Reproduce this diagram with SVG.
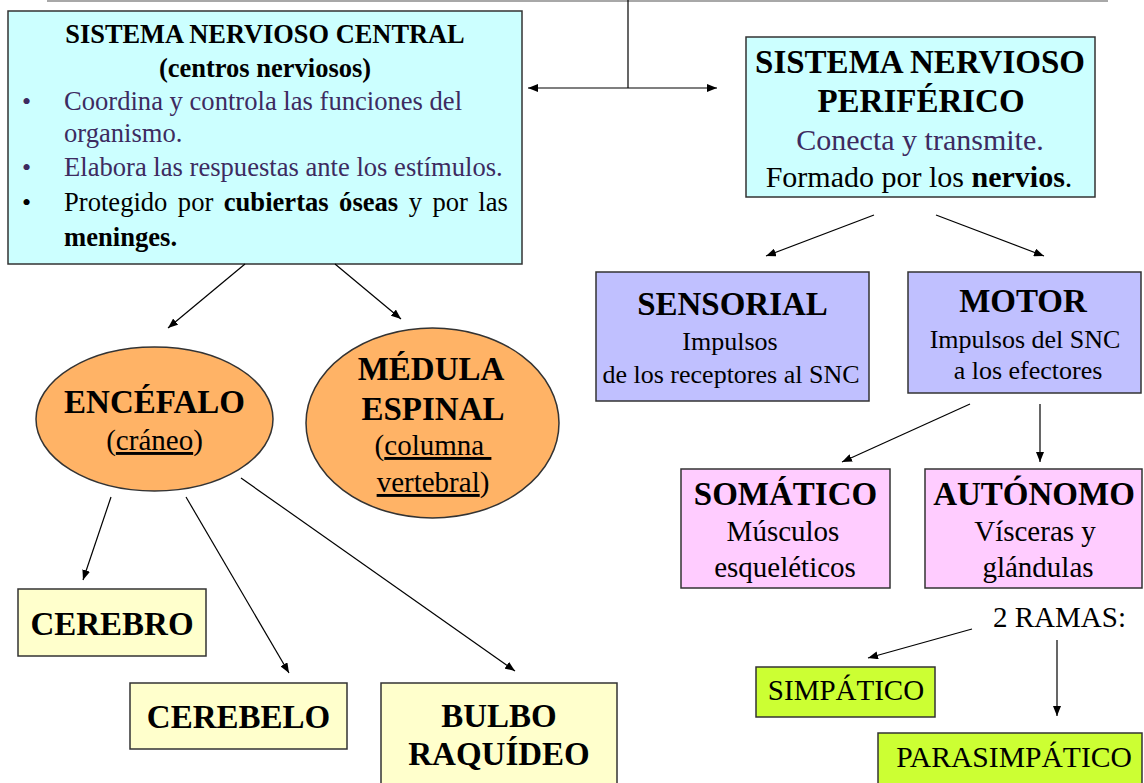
<svg xmlns="http://www.w3.org/2000/svg" width="1144" height="783" viewBox="0 0 1144 783">
<defs>
<marker id="ah" viewBox="0 0 10 8" refX="10" refY="4" markerWidth="10" markerHeight="8" orient="auto-start-reverse" markerUnits="userSpaceOnUse">
<path d="M0,0 L10,4 L0,8 z" fill="#000"/>
</marker>
<style>
text{font-family:"Liberation Serif","Times New Roman",serif;fill:#000}
.c{text-anchor:middle}
.b{font-weight:bold}
.p{fill:#3d2b5f}
.box{stroke:#333;stroke-width:1.5}
.cyan{fill:#ccffff}
.blue{fill:#c0c0ff}
.pink{fill:#ffccff}
.orange{fill:#ffb366}
.yellow{fill:#ffffcc}
.lime{fill:#ccff33}
.conn line,.conn path{stroke:#000;stroke-width:1.2;fill:none}
.arr{marker-end:url(#ah)}
.u{text-decoration:underline}
</style>
</defs>
<rect width="1144" height="783" fill="#fff"/>
<line x1="47" y1="1" x2="1108" y2="1" stroke="#a8a8a8" stroke-width="2"/>

<g id="snc">
<rect class="box cyan" x="8" y="11" width="514" height="253"/>
<text class="c b" x="265" y="43" font-size="26.4">SISTEMA NERVIOSO CENTRAL</text>
<text class="c b" x="265" y="77" font-size="26.5">(centros nerviosos)</text>
<text class="p" x="22" y="110" font-size="26">•</text>
<text class="p" x="64" y="110" font-size="26.6">Coordina y controla las funciones del</text>
<text class="p" x="64" y="142" font-size="26.6">organismo.</text>
<text class="p" x="22" y="176" font-size="26">•</text>
<text class="p" x="64" y="176" font-size="26.6">Elabora las respuestas ante los estímulos.</text>
<text x="22" y="211" font-size="26">•</text>
<text x="64" y="211" font-size="26.6" word-spacing="3.8">Protegido por <tspan class="b">cubiertas óseas</tspan> y por las</text>
<text class="b" x="64" y="246" font-size="26.6">meninges.</text>
</g>

<g id="snp">
<rect class="box cyan" x="746" y="37" width="349" height="160"/>
<text class="c b" x="920" y="73" font-size="33">SISTEMA NERVIOSO</text>
<text class="c b" x="921" y="112" font-size="33">PERIFÉRICO</text>
<text class="c p" x="920" y="150" font-size="30">Conecta y transmite.</text>
<text class="c" x="919" y="187" font-size="30">Formado por los <tspan class="b">nervios</tspan>.</text>
</g>

<g id="sensorial">
<rect class="box blue" x="596" y="272" width="273" height="129"/>
<text class="c b" x="732.5" y="315" font-size="33">SENSORIAL</text>
<text class="c" x="730" y="350" font-size="26">Impulsos</text>
<text class="c" x="731" y="383" font-size="26">de los receptores al SNC</text>
</g>

<g id="motor">
<rect class="box blue" x="908" y="272" width="233" height="121"/>
<text class="c b" x="1023" y="312" font-size="33">MOTOR</text>
<text class="c" x="1025" y="348" font-size="26">Impulsos del SNC</text>
<text class="c" x="1028" y="379" font-size="26">a los efectores</text>
</g>

<g id="somatico">
<rect class="box pink" x="681" y="469" width="209" height="119"/>
<text class="c b" x="785.5" y="505" font-size="33">SOMÁTICO</text>
<text class="c" x="783" y="541" font-size="29">Músculos</text>
<text class="c" x="785" y="577" font-size="29">esqueléticos</text>
</g>

<g id="autonomo">
<rect class="box pink" x="925" y="469" width="217" height="119"/>
<text class="c b" x="1034" y="505" font-size="33">AUTÓNOMO</text>
<text class="c" x="1035" y="541" font-size="29">Vísceras y</text>
<text class="c" x="1038" y="577" font-size="29">glándulas</text>
</g>

<g id="encefalo">
<ellipse class="box orange" cx="154.5" cy="419" rx="118.5" ry="72"/>
<text class="c b" x="154.5" y="413" font-size="33">ENCÉFALO</text>
<text class="c" x="154.5" y="450" font-size="29">(<tspan class="u">cráneo</tspan>)</text>
</g>

<g id="medula">
<ellipse class="box orange" cx="432.5" cy="423" rx="126.5" ry="95"/>
<text class="c b" x="431" y="380" font-size="33">MÉDULA</text>
<text class="c b" x="433" y="420" font-size="33">ESPINAL</text>
<text class="c" x="433" y="455" font-size="29">(<tspan class="u">columna&#160;</tspan></text>
<text class="c" x="433" y="492" font-size="29"><tspan class="u">vertebral</tspan>)</text>
</g>

<g id="cerebro">
<rect class="box yellow" x="18" y="589" width="188" height="67"/>
<text class="c b" x="112" y="635" font-size="33">CEREBRO</text>
</g>

<g id="cerebelo">
<rect class="box yellow" x="130" y="683" width="217" height="66"/>
<text class="c b" x="238.5" y="728" font-size="33">CEREBELO</text>
</g>

<g id="bulbo">
<rect class="box yellow" x="381" y="683" width="236" height="110"/>
<text class="c b" x="499" y="727" font-size="33">BULBO</text>
<text class="c b" x="499" y="765" font-size="33">RAQUÍDEO</text>
</g>

<g id="ramas">
<text x="993" y="627" font-size="29">2 RAMAS:</text>
</g>

<g id="simpatico">
<rect class="box lime" x="756" y="667" width="179" height="50"/>
<text class="c" x="846" y="700" font-size="29">SIMPÁTICO</text>
</g>

<g id="parasimpatico">
<rect class="box lime" x="878" y="733" width="264" height="60"/>
<text class="c" x="1014" y="767" font-size="29.6">PARASIMPÁTICO</text>
</g>

<g id="connectors" class="conn">
<line x1="628" y1="0" x2="628" y2="88"/>
<line x1="528" y1="88" x2="717" y2="88" marker-start="url(#ah)" marker-end="url(#ah)"/>
<line class="arr" x1="245" y1="264" x2="168" y2="328"/>
<line class="arr" x1="335" y1="264" x2="401" y2="319"/>
<line class="arr" x1="874" y1="215" x2="766" y2="256"/>
<line class="arr" x1="936" y1="215" x2="1044" y2="256"/>
<line class="arr" x1="970" y1="404" x2="842" y2="462"/>
<line class="arr" x1="1040" y1="404" x2="1040" y2="462"/>
<line class="arr" x1="111" y1="497" x2="83" y2="580"/>
<line class="arr" x1="186" y1="497" x2="289" y2="673"/>
<line class="arr" x1="241" y1="478" x2="515" y2="671"/>
<line class="arr" x1="972" y1="629" x2="868" y2="658"/>
<line class="arr" x1="1057" y1="640" x2="1057" y2="716"/>
</g>
</svg>
